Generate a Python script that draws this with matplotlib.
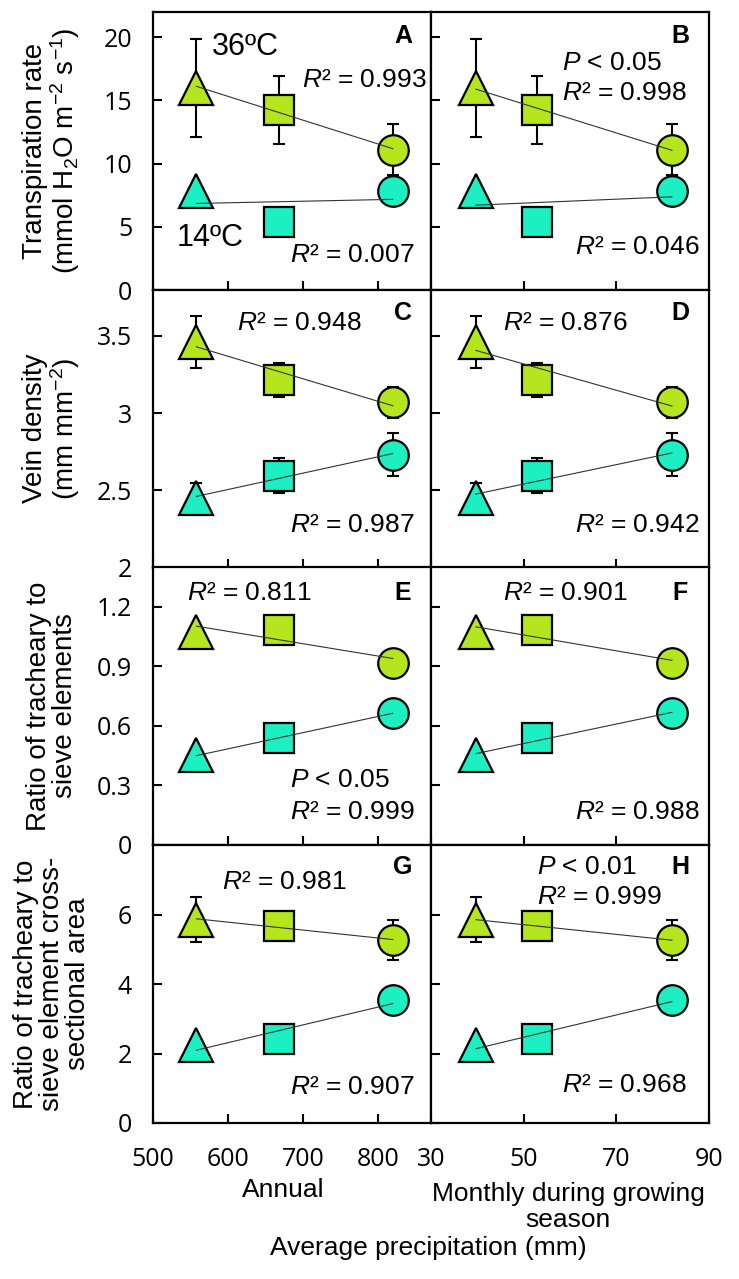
import matplotlib.pyplot as plt
import numpy as np

# Data (same y values used against both precipitation measures)
annual = [558, 668, 820]
monthly = [39.7, 52.8, 82.0]

transp_36 = [16.0, 14.25, 11.1]
transp_36_sd = [3.9, 2.7, 2.0]
transp_14 = [7.8, 5.35, 7.86]
transp_14_sd = [0, 0, 0]

vein_36 = [3.46, 3.215, 3.07]
vein_36_sd = [0.17, 0.11, 0.10]
vein_14 = [2.45, 2.595, 2.73]
vein_14_sd = [0.10, 0.115, 0.14]

ratio_36 = [1.074, 1.082, 0.919]
ratio_36_sd = [0, 0, 0]
ratio_14 = [0.451, 0.538, 0.664]
ratio_14_sd = [0, 0, 0]

area_36 = [5.85, 5.67, 5.26]
area_36_sd = [0.64, 0, 0.57]
area_14 = [2.24, 2.41, 3.54]
area_14_sd = [0, 0, 0]

rows = [
    (transp_36, transp_36_sd, transp_14, transp_14_sd),
    (vein_36, vein_36_sd, vein_14, vein_14_sd),
    (ratio_36, ratio_36_sd, ratio_14, ratio_14_sd),
    (area_36, area_36_sd, area_14, area_14_sd),
]
ylims = [(0, 22), (2, 3.8), (0, 1.4), (0, 8)]
yticks = [[0, 5, 10, 15, 20], [2, 2.5, 3, 3.5], [0, 0.3, 0.6, 0.9, 1.2], [0, 2, 4, 6]]
ytick_labels = [["0", "5", "10", "15", "20"], ["2", "2.5", "3", "3.5"],
                ["0", "0.3", "0.6", "0.9", "1.2"], ["0", "2", "4", "6"]]
ylabels = ["Transpiration rate\n(mmol H$_2$O m$^{-2}$ s$^{-1}$)",
           "Vein density\n(mm mm$^{-2}$)",
           "Ratio of tracheary to\nsieve elements",
           "Ratio of tracheary to\nsieve element cross-\nsectional area"]
panel_letters = [["A", "B"], ["C", "D"], ["E", "F"], ["G", "H"]]

# annotations per panel: (x px, y px, text)
notes = {
    (0, 0): [(302, 80, "$R$² = 0.993"), (290, 255, "$R$² = 0.007")],
    (0, 1): [(562, 63, "$P$ < 0.05"), (562, 93, "$R$² = 0.998"), (575, 247, "$R$² = 0.046")],
    (1, 0): [(237, 323, "$R$² = 0.948"), (290, 525, "$R$² = 0.987")],
    (1, 1): [(503, 323, "$R$² = 0.876"), (575, 525, "$R$² = 0.942")],
    (2, 0): [(187, 593, "$R$² = 0.811"), (290, 780, "$P$ < 0.05"), (290, 812, "$R$² = 0.999")],
    (2, 1): [(503, 593, "$R$² = 0.901"), (575, 812, "$R$² = 0.988")],
    (3, 0): [(222, 882, "$R$² = 0.981"), (290, 1087, "$R$² = 0.907")],
    (3, 1): [(537, 867, "$P$ < 0.01"), (537, 897, "$R$² = 0.999"), (562, 1085, "$R$² = 0.968")],
}
letter_pos = [(403, 36), (680, 36), (403, 313), (680, 313), (403, 593), (680, 593), (403, 867), (680, 867)]

hot = "#b5e61d"
cold = "#1cf0c3"
markers = ["^", "s", "o"]
msizes = [24, 21, 22]

plt.rcParams["mathtext.fontset"] = "custom"
plt.rcParams["mathtext.rm"] = "Liberation Sans"
plt.rcParams["mathtext.it"] = "Liberation Sans:italic"
plt.rcParams["font.family"] = "Liberation Sans"

W, H = 739, 1279
fig = plt.figure(figsize=(W / 100, H / 100), dpi=100)

col_left = [153, 431]
col_w = 278
row_top = [12, 289.5, 567, 845]
row_h = 278

xdata = [annual, monthly]
xlims = [(500, 871), (30, 90)]
xticks = [[500, 600, 700, 800], [30, 50, 70, 90]]


def fx(px):
    return px / W


def fy(py):
    return 1 - py / H


for r in range(4):
    y36, s36, y14, s14 = rows[r]
    for c in range(2):
        ax = fig.add_axes([fx(col_left[c]), fy(row_top[r] + row_h), col_w / W, row_h / H])
        xs = xdata[c]
        for ys, sd, col in [(y36, s36, hot), (y14, s14, cold)]:
            ax.errorbar(xs, ys, yerr=sd, fmt="none", ecolor="black", elinewidth=1.5,
                        capsize=4, capthick=1.5, zorder=1)
            for i in range(3):
                ax.plot(xs[i], ys[i], marker=markers[i], markersize=msizes[i],
                        markerfacecolor=col, markeredgecolor="black", markeredgewidth=1.6,
                        linestyle="none", zorder=2)
            # linear trend line
            k, b = np.polyfit(xs, ys, 1)
            xx = np.array([xs[0], xs[-1]])
            ax.plot(xx, k * xx + b, color="#333333", linewidth=0.8, zorder=3)

        ax.set_xlim(*xlims[c])
        ax.set_ylim(*ylims[r])
        ax.set_xticks(xticks[c])
        ax.set_yticks(yticks[r])
        if c == 0:
            ax.set_yticklabels(ytick_labels[r], fontfamily="Open Sans", fontsize=18)
        else:
            ax.set_yticklabels([])
        if r == 3:
            ax.set_xticklabels([str(t) for t in xticks[c]], fontfamily="Open Sans", fontsize=18)
        else:
            ax.set_xticklabels([])
        ax.tick_params(direction="in", length=6.5, width=1.5, pad=15)
        ax.tick_params(axis="x", pad=17)
        for sp in ax.spines.values():
            sp.set_linewidth(1.6)

        for (px, py, t) in notes[(r, c)]:
            fig.text(fx(px), fy(py), t, fontsize=19, ha="left", va="center")

    fig.text(fx(52), fy(row_top[r] + row_h / 2), ylabels[r], rotation=90, fontsize=20,
             ha="center", va="center", linespacing=1.0, multialignment="center")

for (px, py), t in zip(letter_pos, [l for row in panel_letters for l in row]):
    fig.text(fx(px), fy(py), t, fontsize=18, fontweight="bold", ha="center", va="center")

fig.text(fx(212), fy(47), "36ºC", fontsize=22, ha="left", va="center")
fig.text(fx(177), fy(238), "14ºC", fontsize=22, ha="left", va="center")

fig.text(fx(283), fy(1190), "Annual", fontsize=19, ha="center", va="center")
fig.text(fx(568), fy(1207), "Monthly during growing\nseason", fontsize=19, ha="center",
         va="center", linespacing=1.1)
fig.text(fx(428), fy(1248), "Average precipitation (mm)", fontsize=19, ha="center", va="center")

fig.savefig("out.png", dpi=100)
